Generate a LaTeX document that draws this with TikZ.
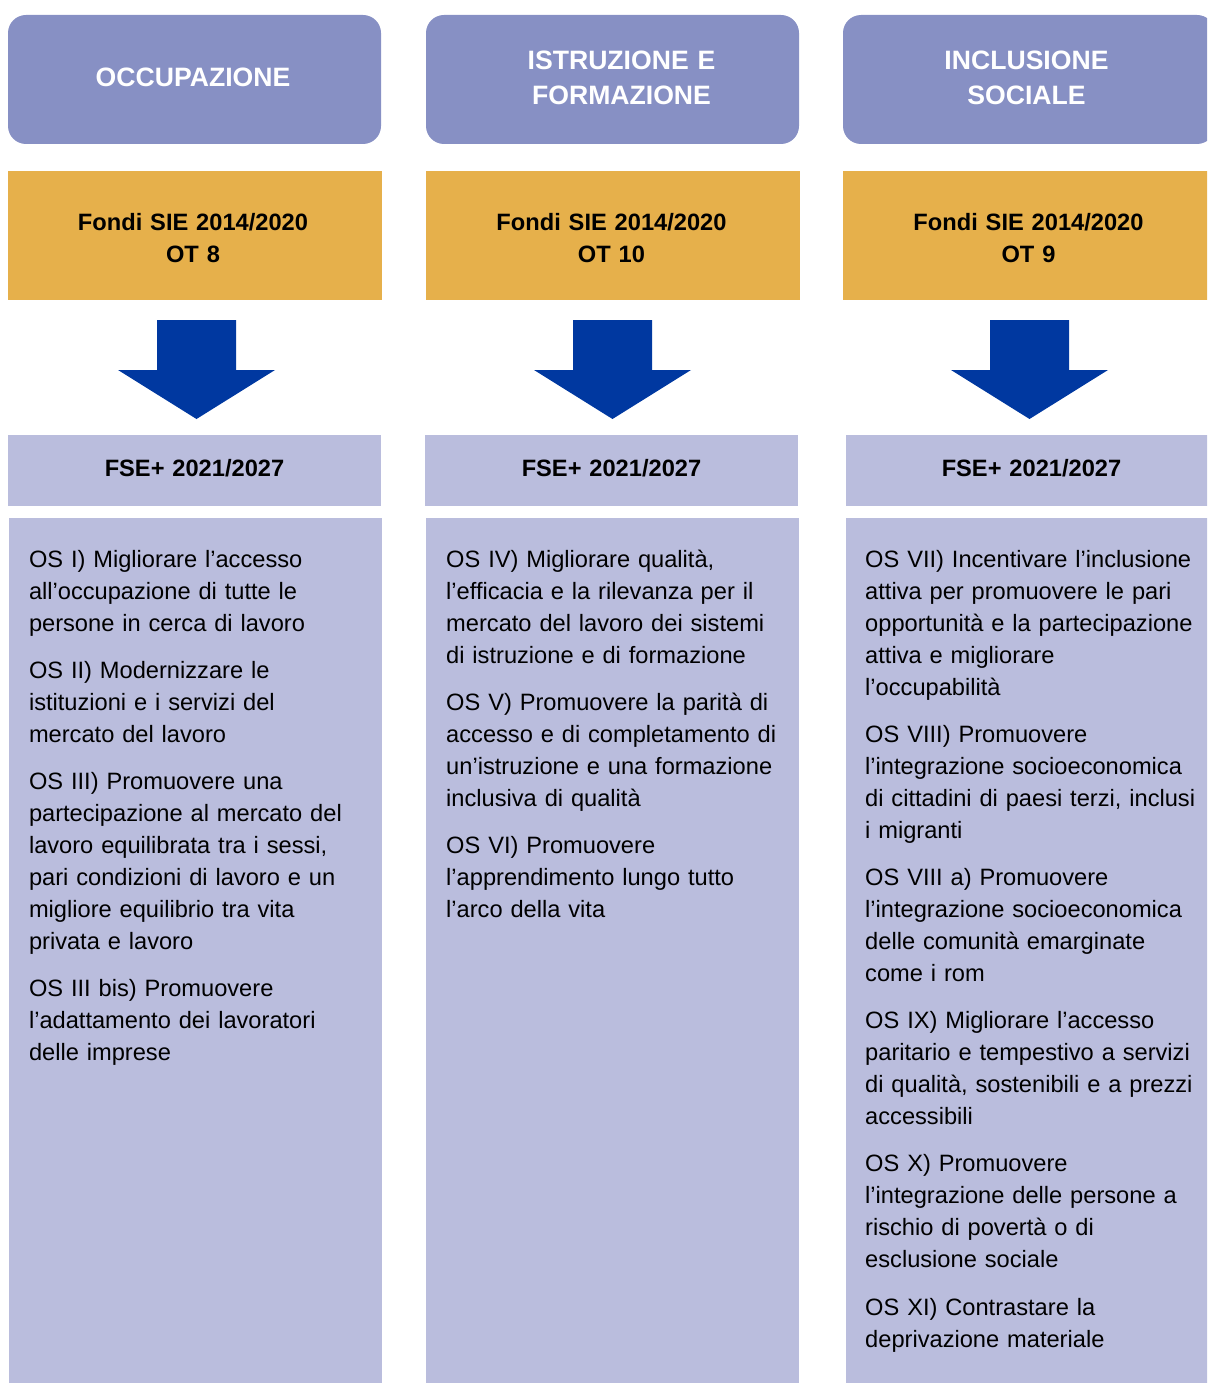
\documentclass[tikz,border=0pt]{standalone}
\usepackage{fontspec}
\setmainfont{Liberation Sans}
\definecolor{titlecol}{HTML}{8790C4}
\definecolor{fondicol}{HTML}{E6B04B}
\definecolor{fsecol}{HTML}{BABDDD}
\definecolor{arrowcol}{HTML}{0038A0}
\begin{document}
\begin{tikzpicture}[x=1pt,y=-1pt,
  box/.style={anchor=north west, inner sep=0pt, outer sep=0pt, draw=none},
  titlebox/.style={box, fill=titlecol, rounded corners=18pt, minimum height=129pt},
  fondibox/.style={box, fill=fondicol, minimum height=129pt},
  fsebox/.style={box, fill=fsecol, minimum height=71pt},
  contbox/.style={box, fill=fsecol, minimum height=875pt},
  titletext/.style={anchor=base, inner sep=0pt, text=white, align=center, text width=340pt,
    font=\fontsize{26.6}{35}\selectfont\bfseries},
  fonditext/.style={anchor=base, inner sep=0pt, text=black, align=center, text width=340pt,
    font=\fontsize{23.65}{32}\selectfont\bfseries},
  bodytext/.style={anchor=base west, inner sep=0pt, text=black, align=left, text width=350pt,
    font=\fontsize{23.65}{32}\selectfont},
  blockarrow/.style={fill=arrowcol, draw=none}
]
\useasboundingbox (0,0) rectangle (1207,1383);
\clip (0,0) rectangle (1207,1383);

% ---------- boxes ----------
\node[titlebox, minimum width=373pt] (t1) at (8,15) {};
\node[titlebox, minimum width=373pt] (t2) at (426,15) {};
\node[titlebox, minimum width=372pt] (t3) at (843,15) {};

\node[fondibox, minimum width=374pt] (f1) at (8,171) {};
\node[fondibox, minimum width=374pt] (f2) at (426,171) {};
\node[fondibox, minimum width=370pt] (f3) at (843,171) {};

\node[fsebox, minimum width=373pt] (s1) at (8,435) {};
\node[fsebox, minimum width=373pt] (s2) at (425,435) {};
\node[fsebox, minimum width=365pt] (s3) at (846,435) {};

\node[contbox, minimum width=373pt] (c1) at (9,518) {};
\node[contbox, minimum width=373pt] (c2) at (426,518) {};
\node[contbox, minimum width=365pt] (c3) at (846,518) {};

% ---------- block arrows ----------
\fill[blockarrow] (157,320) -- (236,320) -- (236,370) -- (275,370) -- (196.5,419) -- (118,370) -- (157,370) -- cycle;
\fill[blockarrow] (573,320) -- (652,320) -- (652,370) -- (691,370) -- (612.5,419) -- (534,370) -- (573,370) -- cycle;
\fill[blockarrow] (990,320) -- (1069,320) -- (1069,370) -- (1108,370) -- (1029.5,419) -- (951,370) -- (990,370) -- cycle;

% ---------- titles ----------
\node[titletext] (tt1) at (193,86.5) {OCCUPAZIONE};
\node[titletext] (tt2) at (621.5,69.5) {ISTRUZIONE E\\FORMAZIONE};
\node[titletext] (tt3) at (1026.5,69.5) {INCLUSIONE\\SOCIALE};

\node[fonditext] (ft1) at (193,230.6) {Fondi SIE 2014/2020\\OT 8};
\node[fonditext] (ft2) at (611.5,230.6) {Fondi SIE 2014/2020\\OT 10};
\node[fonditext] (ft3) at (1028.5,230.6) {Fondi SIE 2014/2020\\OT 9};

\node[fonditext] (st1) at (194.5,476.6) {FSE+ 2021/2027};
\node[fonditext] (st2) at (611.5,476.6) {FSE+ 2021/2027};
\node[fonditext] (st3) at (1031.5,476.6) {FSE+ 2021/2027};

% ---------- body texts ----------
\node[bodytext] (b1) at (28.8,567) {OS I) Migliorare l’accesso\\all’occupazione di tutte le\\persone in cerca di lavoro\\[15.2pt]
OS II) Modernizzare le\\istituzioni e i servizi del\\mercato del lavoro\\[15.2pt]
OS III) Promuovere una\\partecipazione al mercato del\\lavoro equilibrata tra i sessi,\\pari condizioni di lavoro e un\\migliore equilibrio tra vita\\privata e lavoro\\[15.2pt]
OS III bis) Promuovere\\l’adattamento dei lavoratori\\delle imprese};

\node[bodytext] (b2) at (446,567) {OS IV) Migliorare qualità,\\l’efficacia e la rilevanza per il\\mercato del lavoro dei sistemi\\di istruzione e di formazione\\[15.2pt]
OS V) Promuovere la parità di\\accesso e di completamento di\\un’istruzione e una formazione\\inclusiva di qualità\\[15.2pt]
OS VI) Promuovere\\l’apprendimento lungo tutto\\l’arco della vita};

\node[bodytext] (b3) at (865,567) {OS VII) Incentivare l’inclusione\\attiva per promuovere le pari\\opportunità e la partecipazione\\attiva e migliorare\\l’occupabilità\\[15.2pt]
OS VIII) Promuovere\\l’integrazione socioeconomica\\di cittadini di paesi terzi, inclusi\\i migranti\\[15.2pt]
OS VIII a) Promuovere\\l’integrazione socioeconomica\\delle comunità emarginate\\come i rom\\[15.2pt]
OS IX) Migliorare l’accesso\\paritario e tempestivo a servizi\\di qualità, sostenibili e a prezzi\\accessibili\\[15.2pt]
OS X) Promuovere\\l’integrazione delle persone a\\rischio di povertà o di\\esclusione sociale\\[15.2pt]
OS XI) Contrastare la\\deprivazione materiale};
\end{tikzpicture}
\end{document}
